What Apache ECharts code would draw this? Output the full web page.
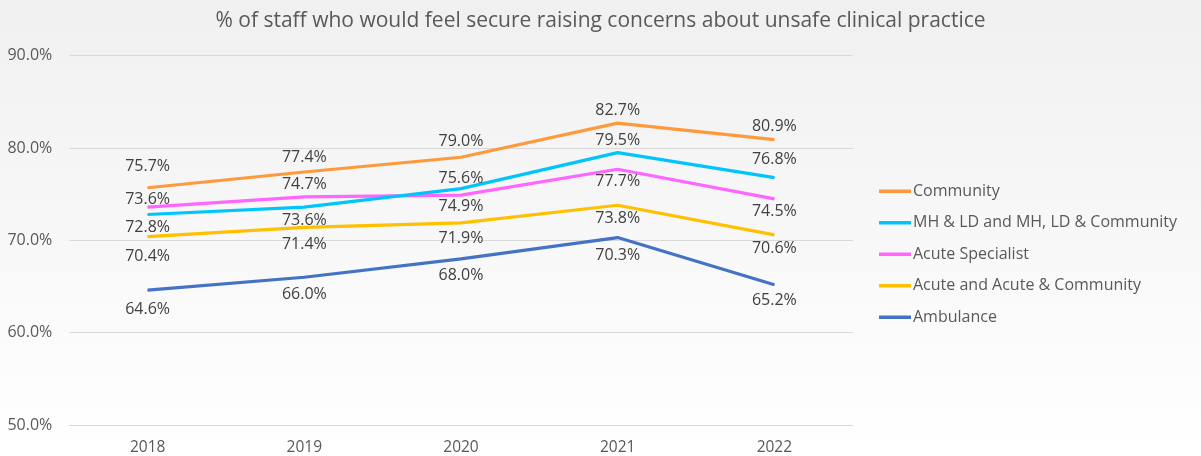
<!DOCTYPE html>
<html>
<head>
<meta charset="utf-8">
<script src="https://cdn.jsdelivr.net/npm/echarts@6/dist/echarts.min.js"></script>
<style>
html,body{margin:0;padding:0;}
#chart{width:1201px;height:456px;}
</style>
</head>
<body>
<div id="chart"></div>
<script>
// ---- data ----
var years = ['2018', '2019', '2020', '2021', '2022'];
var seriesNames = ['Community', 'MH & LD and MH, LD & Community', 'Acute Specialist', 'Acute and Acute & Community', 'Ambulance'];
var community = [75.7, 77.4, 79.0, 82.7, 80.9];
var mhLd = [72.8, 73.6, 75.6, 79.5, 76.8];
var acuteSpecialist = [73.6, 74.7, 74.9, 77.7, 74.5];
var acuteCommunity = [70.4, 71.4, 71.9, 73.8, 70.6];
var ambulance = [64.6, 66.0, 68.0, 70.3, 65.2];
var yTicks = [50, 60, 70, 80, 90];

// ---- styles (label vertical offsets, px) ----
var colors = ['#FF9A3C', '#00C5FA', '#FF66FF', '#FFC000', '#4472C4'];
var labelDy = [
  [-21, -15, -15.5, -12.7, -13],
  [12.7, 13, -10.4, -12.3, -17.7],
  [-7.7, -12.7, 11.5, 12.3, 12.3],
  [20, 17.5, 16, 12.7, 13.3],
  [19, 17.5, 17, 18.3, 15.7]
];
var values = [community, mhLd, acuteSpecialist, acuteCommunity, ambulance];
var FONT = 'Open Sans';

var chart = echarts.init(document.getElementById('chart'));
var series = values.map(function (vals, s) {
  return {
    name: seriesNames[s],
    type: 'line',
    symbol: 'circle',
    symbolSize: 1,
    showSymbol: true,
    animation: false,
    z: 10 - s,
    itemStyle: { color: colors[s] },
    lineStyle: { color: colors[s], width: 3.2 },
    label: {
      show: true,
      position: 'inside',
      color: '#404040',
      fontSize: 16,
      fontFamily: FONT,
      formatter: function (p) { return p.value.toFixed(1) + '%'; }
    },
    emphasis: { disabled: true },
    data: vals.map(function (v, i) {
      return { value: v, label: { offset: [0, labelDy[s][i]] } };
    })
  };
});

chart.setOption({
  backgroundColor: {
    type: 'linear', x: 0, y: 0, x2: 0, y2: 1,
    colorStops: [{ offset: 0, color: '#F0F0F0' }, { offset: 1, color: '#FFFFFF' }]
  },
  animation: false,
  title: {
    text: '% of staff who would feel secure raising concerns about unsafe clinical practice',
    left: 'center',
    top: 6,
    textStyle: { color: '#595959', fontSize: 21, fontWeight: 'normal', fontFamily: FONT }
  },
  grid: { left: 69.3, right: 1201 - 852.7, top: 55.7, bottom: 456 - 425.7, containLabel: false },
  legend: {
    orient: 'vertical',
    left: 874,
    top: 178,
    icon: 'rect',
    itemWidth: 32,
    itemHeight: 3.5,
    itemGap: 15,
    data: seriesNames,
    selectedMode: false,
    textStyle: { color: '#595959', fontSize: 16, fontFamily: FONT, lineHeight: 16.5, padding: [0, 0, 0, -3] }
  },
  xAxis: {
    type: 'category',
    data: years,
    boundaryGap: true,
    axisLine: { show: true, lineStyle: { color: '#D9D9D9', width: 1 } },
    axisTick: { show: false },
    axisLabel: { color: '#595959', fontSize: 15.5, fontFamily: FONT, margin: 15 }
  },
  yAxis: {
    type: 'value',
    min: yTicks[0],
    max: yTicks[yTicks.length - 1],
    interval: 10,
    axisLine: { show: false },
    axisTick: { show: false },
    splitLine: { lineStyle: { color: '#D9D9D9', width: 1 } },
    axisLabel: {
      color: '#595959', fontSize: 16, fontFamily: FONT, margin: 17,
      formatter: function (v) { return v.toFixed(1) + '%'; }
    }
  },
  series: series
});
</script>
</body>
</html>
